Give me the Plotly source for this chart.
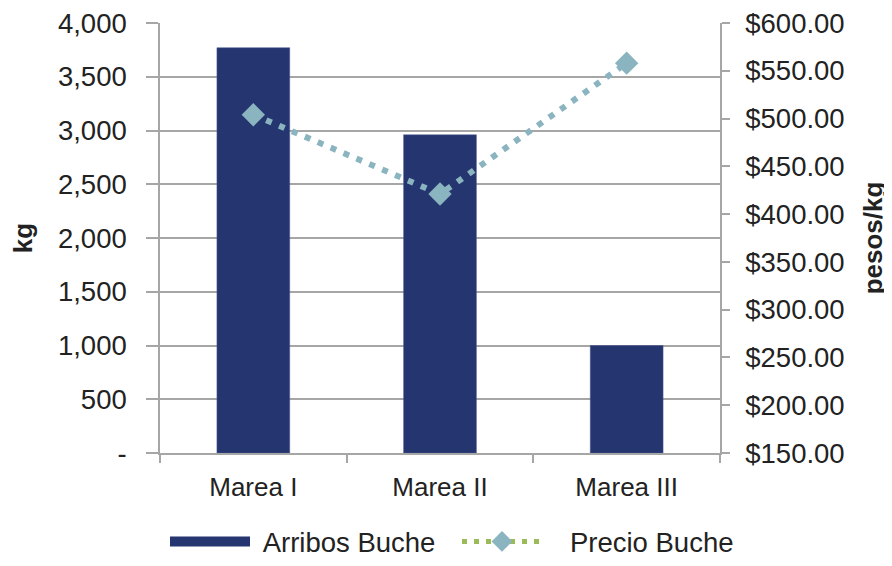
import plotly.graph_objects as go

categories = ["Marea I", "Marea II", "Marea III"]
arribos_kg = [3770, 2960, 1000]
precio_pesos = [504, 421, 558]
left_tickvals = [0, 500, 1000, 1500, 2000, 2500, 3000, 3500, 4000]
left_ticktext = ["-", "500", "1,000", "1,500", "2,000", "2,500", "3,000", "3,500", "4,000"]

FONT = "Liberation Sans, Arial, sans-serif"
BAR_COLOR = "#253570"
LINE_COLOR = "#8AB4BF"
LEG_GREEN = "#9BBB59"
GRID = "#A6A6A6"

W, H = 884, 558  # page adds an 8px body margin
T, B = 15, 113

fig = go.Figure()
fig.add_trace(go.Bar(
    x=categories, y=arribos_kg, name="Arribos Buche", showlegend=False,
    marker=dict(color=BAR_COLOR, line=dict(color="#4A5A90", width=0.5)),
    width=0.39, yaxis="y",
))
# legend swatch for the bars (wide rectangle, Excel style)
fig.add_trace(go.Scatter(
    x=[None], y=[None], name="&nbsp;Arribos Buche", yaxis="y", legend="legend",
    mode="lines", line=dict(color=BAR_COLOR, width=16),
))
fig.add_trace(go.Scatter(
    x=categories, y=precio_pesos, name="Precio Buche", yaxis="y2",
    mode="lines+markers", showlegend=False,
    line=dict(color=LINE_COLOR, width=6, dash="6px,8px"),
    marker=dict(symbol="diamond", size=18, color=LINE_COLOR),
))
# legend entry (Excel-style legend swatch)
fig.add_trace(go.Scatter(
    x=[None], y=[None], name="&nbsp;&nbsp;&nbsp;Precio Buche", yaxis="y2",
    legend="legend2", mode="lines+markers",
    line=dict(color=LEG_GREEN, width=5, dash="5px,7px"),
    marker=dict(symbol="diamond", size=16, color=LINE_COLOR),
))

leg_common = dict(orientation="h", xref="container", yref="container",
                  y=0, yanchor="bottom", xanchor="left",
                  font=dict(size=27.5), itemwidth=80, bgcolor="rgba(0,0,0,0)")

fig.update_layout(
    width=W, height=H,
    margin=dict(l=152, r=172, t=T, b=B, autoexpand=False),
    plot_bgcolor="white", paper_bgcolor="white",
    font=dict(family=FONT, size=26, color="#222222"),
    showlegend=True,
    legend=dict(x=157 / W, **leg_common),
    legend2=dict(x=449 / W, **leg_common),
    xaxis=dict(
        type="category", showline=True, linecolor=GRID, linewidth=1.5,
        ticks="outside", tickson="boundaries", ticklen=8, tickcolor=GRID,
        tickwidth=1.5, showgrid=False, ticklabelstandoff=10,
        tickfont=dict(size=26), automargin=False,
    ),
    yaxis=dict(
        range=[0, 4000], tickvals=left_tickvals, ticktext=left_ticktext,
        showgrid=True, gridcolor=GRID, gridwidth=1.5,
        showline=True, linecolor=GRID, linewidth=1.5,
        ticks="outside", ticklen=12, tickcolor=GRID, tickwidth=1.5,
        tickfont=dict(size=27.5), zeroline=False, automargin=False,
        ticklabelstandoff=14, ticklabeloverflow="allow",
        title=dict(text="<b>kg</b>", font=dict(size=26), standoff=26),
    ),
    yaxis2=dict(
        range=[150, 600], dtick=50, tick0=150, overlaying="y", side="right",
        tickprefix="$", tickformat=",.2f", showgrid=False,
        showline=True, linecolor=GRID, linewidth=1.5,
        ticks="outside", ticklen=8, tickcolor=GRID, tickwidth=1.5,
        tickfont=dict(size=27.5), zeroline=False, automargin=False,
        ticklabelstandoff=10, ticklabeloverflow="allow",
        title=dict(text="<b>pesos/kg</b>", font=dict(size=26), standoff=20),
    ),
)

fig.write_html("out.html")
